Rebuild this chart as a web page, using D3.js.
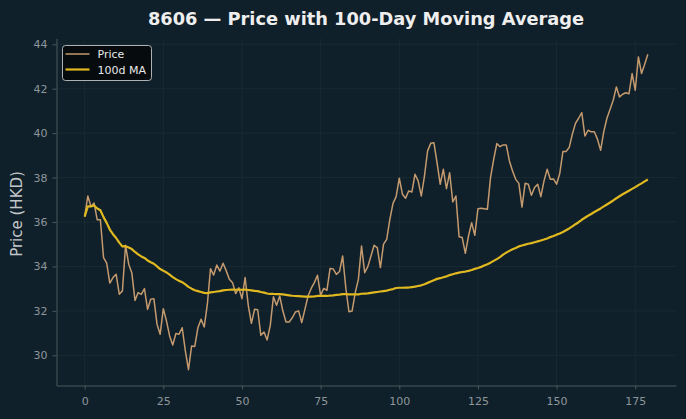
<!DOCTYPE html>
<html>
<head>
<meta charset="utf-8">
<script src="https://cdn.jsdelivr.net/npm/d3@7"></script>
<style>
  html, body { margin: 0; padding: 0; background: #10202a; }
  svg { display: block; font-family: "DejaVu Sans", sans-serif; }
</style>
</head>
<body>
<svg id="chart" width="686" height="419"></svg>
<script>
const titleText = "8606 — Price with 100-Day Moving Average";
const yLabel = "Price (HKD)";
const seriesNames = ["Price", "100d MA"];
const xTicks = [0, 25, 50, 75, 100, 125, 150, 175];
const yTicks = [30, 32, 34, 36, 38, 40, 42, 44];

const price = [
  36.24,37.17,36.70,36.85,36.10,36.10,34.40,34.15,33.25,33.50,
  33.65,32.75,32.90,34.95,34.10,33.70,32.47,32.82,32.74,33.00,
  32.07,32.52,32.55,31.40,30.95,32.10,31.55,30.87,30.46,30.98,
  30.95,31.24,30.20,29.35,30.42,30.40,31.24,31.62,31.27,32.30,
  33.90,33.61,34.06,33.79,34.14,33.80,33.42,33.27,32.78,33.04,
  32.55,33.50,32.25,31.44,32.07,32.05,30.90,31.05,30.69,31.35,
  32.64,32.25,32.67,31.99,31.50,31.50,31.69,31.95,32.00,31.47,
  32.07,32.67,33.01,33.27,33.60,32.70,33.01,32.92,33.91,33.89,
  33.64,33.77,34.47,33.04,31.96,31.99,32.82,33.42,34.92,33.72,
  33.99,34.47,34.95,34.85,33.95,35.00,35.22,36.12,36.84,37.14,
  37.97,37.25,37.07,37.40,37.35,38.15,37.85,37.17,38.07,39.20,
  39.54,39.57,38.67,37.70,38.37,37.50,38.22,36.90,37.17,35.34,
  35.30,34.59,35.37,35.97,35.40,36.60,36.62,36.60,36.57,38.00,
  38.82,39.53,39.39,39.47,39.47,38.75,38.30,37.92,37.74,36.67,
  37.74,37.70,37.20,37.55,37.70,37.14,37.85,38.37,37.92,37.94,
  37.70,38.18,39.17,39.17,39.35,39.95,40.44,40.67,40.92,39.87,
  40.13,40.06,40.06,39.72,39.23,40.07,40.67,41.07,41.48,42.08,
  41.63,41.75,41.82,41.77,42.68,41.93,43.43,42.68,43.10,43.55
];

const ma100 = [
  36.24,36.70,36.70,36.74,36.61,36.53,36.22,35.96,35.66,35.45,
  35.28,35.07,34.90,34.91,34.85,34.78,34.65,34.54,34.45,34.38,
  34.27,34.19,34.12,34.00,33.88,33.81,33.73,33.63,33.52,33.43,
  33.35,33.29,33.19,33.08,33.00,32.93,32.89,32.85,32.81,32.80,
  32.83,32.85,32.87,32.89,32.92,32.94,32.95,32.96,32.95,32.96,
  32.95,32.96,32.94,32.92,32.90,32.89,32.85,32.82,32.78,32.76,
  32.76,32.75,32.75,32.74,32.72,32.70,32.68,32.67,32.66,32.65,
  32.64,32.64,32.64,32.65,32.67,32.67,32.67,32.67,32.69,32.70,
  32.72,32.73,32.75,32.75,32.74,32.74,32.74,32.74,32.77,32.78,
  32.79,32.81,32.83,32.85,32.87,32.89,32.91,32.95,32.98,33.03,
  33.04,33.04,33.05,33.05,33.07,33.09,33.12,33.15,33.20,33.26,
  33.32,33.38,33.44,33.47,33.51,33.55,33.61,33.65,33.69,33.72,
  33.75,33.77,33.80,33.84,33.89,33.93,33.98,34.04,34.10,34.17,
  34.25,34.33,34.42,34.53,34.62,34.70,34.77,34.83,34.90,34.94,
  34.98,35.02,35.05,35.09,35.13,35.17,35.21,35.26,35.32,35.37,
  35.43,35.48,35.55,35.63,35.71,35.80,35.90,35.99,36.10,36.19,
  36.28,36.36,36.45,36.53,36.61,36.70,36.79,36.88,36.97,37.07,
  37.16,37.25,37.33,37.41,37.49,37.57,37.66,37.74,37.83,37.91
];

const W = 686, H = 419;
const plot = { left: 56.5, right: 676, top: 38.5, bottom: 385.5 };
const colors = { price: "#c49a6e", ma: "#e0b820", bg: "#10202a", grid: "#1b2c35",
                 spine: "#4b565c", tick: "#8d969b", text: "#eeeeee", label: "#c2c7ca" };

const svg = d3.select("#chart");
svg.append("rect").attr("width", W).attr("height", H).attr("fill", colors.bg);

const n = price.length;
const xPad = (n - 1) * 0.05;
const yMin = d3.min(price.concat(ma100)), yMax = d3.max(price.concat(ma100));
const yPad = (yMax - yMin) * 0.05;

const x = d3.scaleLinear().domain([0 - xPad, (n - 1) + xPad]).range([plot.left, plot.right]);
const y = d3.scaleLinear().domain([yMin - yPad, yMax + yPad]).range([plot.bottom, plot.top]);

// grid
const g = svg.append("g");
g.selectAll(".gx").data(xTicks).enter().append("line")
  .attr("x1", d => x(d)).attr("x2", d => x(d))
  .attr("y1", plot.top).attr("y2", plot.bottom)
  .attr("stroke", colors.grid).attr("stroke-width", 0.8);
g.selectAll(".gy").data(yTicks).enter().append("line")
  .attr("x1", plot.left).attr("x2", plot.right)
  .attr("y1", d => y(d)).attr("y2", d => y(d))
  .attr("stroke", colors.grid).attr("stroke-width", 0.8);

// axes
const xAxis = svg.append("g").attr("transform", `translate(0,${plot.bottom})`)
  .call(d3.axisBottom(x).tickValues(xTicks).tickSize(4).tickPadding(8).tickSizeOuter(0));
const yAxis = svg.append("g").attr("transform", `translate(${plot.left},0)`)
  .call(d3.axisLeft(y).tickValues(yTicks).tickSize(4).tickPadding(5).tickSizeOuter(0));
[xAxis, yAxis].forEach(ax => {
  ax.select(".domain").attr("stroke", colors.spine).attr("stroke-width", 1);
  ax.selectAll(".tick line").attr("stroke", colors.spine);
  ax.selectAll(".tick text").attr("fill", colors.tick)
    .style("font-family", "DejaVu Sans").style("font-size", "11px");
});

// lines
const line = d3.line().x((d, i) => x(i)).y(d => y(d));
svg.append("path").datum(price).attr("d", line)
  .attr("fill", "none").attr("stroke", colors.price).attr("stroke-width", 1.5)
  .attr("stroke-linejoin", "round");
svg.append("path").datum(ma100).attr("d", line)
  .attr("fill", "none").attr("stroke", colors.ma).attr("stroke-width", 2.2)
  .attr("stroke-linejoin", "round");

// title
svg.append("text").attr("x", 366).attr("y", 25).attr("text-anchor", "middle")
  .attr("fill", colors.text).style("font-weight", "bold").style("font-size", "17.8px")
  .text(titleText);

// y label
svg.append("text").attr("transform", `translate(22,${(plot.top + plot.bottom) / 2 + 2}) rotate(-90)`)
  .attr("text-anchor", "middle").attr("fill", colors.label).style("font-size", "15px")
  .text(yLabel);

// legend
const lg = svg.append("g").attr("transform", "translate(62.5,45.5)");
lg.append("rect").attr("width", 89).attr("height", 35).attr("rx", 3)
  .attr("fill", "#060b0e").attr("stroke", "#bfc3c5").attr("stroke-width", 0.9);
const items = [{ name: seriesNames[0], c: colors.price, w: 1.5 }, { name: seriesNames[1], c: colors.ma, w: 2.2 }];
items.forEach((it, k) => {
  const yy = 8.5 + k * 15.5;
  lg.append("line").attr("x1", 3).attr("x2", 27).attr("y1", yy).attr("y2", yy)
    .attr("stroke", it.c).attr("stroke-width", it.w);
  lg.append("text").attr("x", 35).attr("y", yy + 4).attr("fill", "#e8e8e8")
    .style("font-size", "11px").text(it.name);
});
</script>
</body>
</html>
